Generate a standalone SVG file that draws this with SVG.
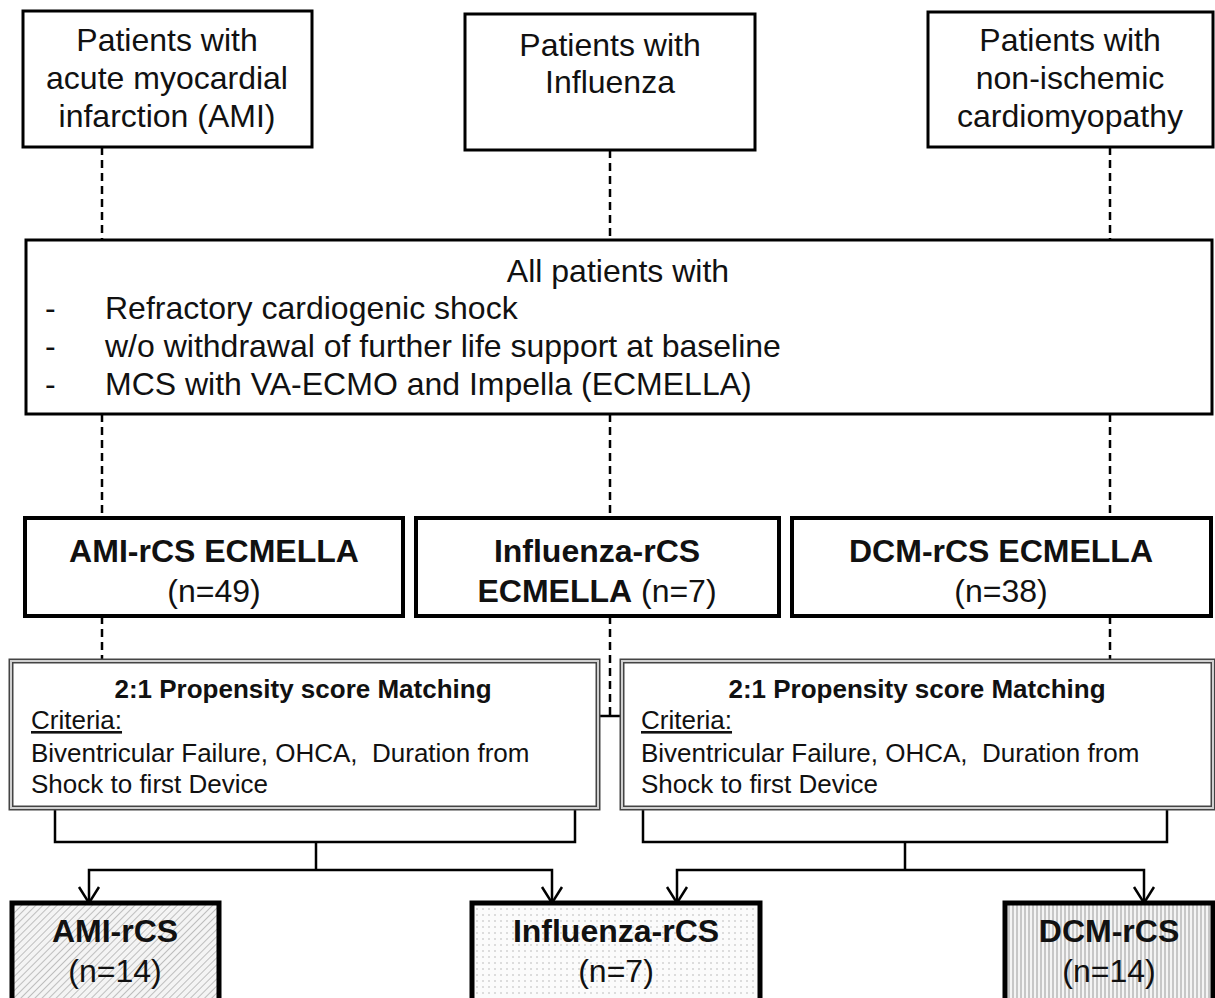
<svg xmlns="http://www.w3.org/2000/svg" width="1215" height="998" viewBox="0 0 1215 998">
<defs>
<pattern id="hatch" patternUnits="userSpaceOnUse" width="5" height="5" patternTransform="rotate(45)">
<rect width="5" height="5" fill="#f4f4f4"/>
<line x1="0" y1="0" x2="0" y2="5" stroke="#9a9a9a" stroke-width="1.2"/>
</pattern>
<pattern id="dots" patternUnits="userSpaceOnUse" width="6" height="6">
<rect width="6" height="6" fill="#fbfbfb"/>
<circle cx="3" cy="3" r="0.8" fill="#b5b5b5"/>
</pattern>
<pattern id="vlines" patternUnits="userSpaceOnUse" width="4" height="4">
<rect width="4" height="4" fill="#f4f4f4"/>
<line x1="1" y1="0" x2="1" y2="4" stroke="#9a9a9a" stroke-width="1"/>
</pattern>
</defs>
<style>
text{font-family:"Liberation Sans",Arial,sans-serif;fill:#111}
.t32{font-size:32px}
.b32{font-size:32px;font-weight:bold}
.t26{font-size:26px}
.b26{font-size:26px;font-weight:bold}
.box{fill:#fff;stroke:#000;stroke-width:3}
.mbox{fill:#fff;stroke:#000;stroke-width:4}
.dbl{fill:#fff;stroke:#444;stroke-width:5}
.dbl2{fill:none;stroke:#d0d0d0;stroke-width:2}
.dash{stroke:#000;stroke-width:2.5;stroke-dasharray:8 5;fill:none}
.sol{stroke:#000;stroke-width:2.5;fill:none}
.c{text-anchor:middle}
</style>
<g id="connectors">
<path class="dash" d="M102,147 V240 M610,150 V240 M1110,147 V240"/>
<path class="dash" d="M102,414 V518 M610,414 V518 M1110,414 V518"/>
<path class="dash" d="M102,616 V661 M610,616 V716 M1110,616 V661"/>
<path class="sol" d="M598,716 H622"/>
<path class="sol" d="M55,808 V842 H575 V808 M316,842 V870 M89,903 V870 H552 V903"/>
<path class="sol" d="M79,887 L89,903 L99,887 M542,887 L552,903 L562,887"/>
<path class="sol" d="M643,808 V842 H1167 V808 M905,842 V870 M677,903 V870 H1144 V903"/>
<path class="sol" d="M667,887 L677,903 L687,887 M1134,887 L1144,903 L1154,887"/>
</g>
<g id="top-ami">
<rect class="box" x="23" y="11" width="289" height="136"/>
<text class="t32 c" x="167" y="51">Patients with</text>
<text class="t32 c" x="167" y="89">acute myocardial</text>
<text class="t32 c" x="167" y="127">infarction (AMI)</text>
</g>
<g id="top-influenza">
<rect class="box" x="465" y="14" width="290" height="136"/>
<text class="t32 c" x="610" y="56">Patients with</text>
<text class="t32 c" x="610" y="93">Influenza</text>
</g>
<g id="top-dcm">
<rect class="box" x="928" y="12" width="285" height="135"/>
<text class="t32 c" x="1070" y="51">Patients with</text>
<text class="t32 c" x="1070" y="89">non-ischemic</text>
<text class="t32 c" x="1070" y="127">cardiomyopathy</text>
</g>
<g id="all-patients">
<rect class="box" x="26" y="240" width="1186" height="174"/>
<text class="t32 c" x="618" y="282">All patients with</text>
<text class="t32" x="45" y="319">-</text>
<text class="t32" x="105" y="319">Refractory cardiogenic shock</text>
<text class="t32" x="45" y="357">-</text>
<text class="t32" x="105" y="357">w/o withdrawal of further life support at baseline</text>
<text class="t32" x="45" y="395">-</text>
<text class="t32" x="105" y="395">MCS with VA-ECMO and Impella (ECMELLA)</text>
</g>
<g id="ami-ecmella">
<rect class="mbox" x="25" y="518" width="378" height="98"/>
<text class="b32 c" x="214" y="562">AMI-rCS ECMELLA</text>
<text class="t32 c" x="214" y="602">(n=49)</text>
</g>
<g id="influenza-ecmella">
<rect class="mbox" x="416" y="518" width="363" height="98"/>
<text class="b32 c" x="597" y="562">Influenza-rCS</text>
<text class="c" x="597" y="602"><tspan class="b32">ECMELLA</tspan><tspan class="t32"> (n=7)</tspan></text>
</g>
<g id="dcm-ecmella">
<rect class="mbox" x="792" y="518" width="419" height="98"/>
<text class="b32 c" x="1001" y="562">DCM-rCS ECMELLA</text>
<text class="t32 c" x="1001" y="602">(n=38)</text>
</g>
<g id="psm-left">
<rect class="dbl" x="11" y="661" width="587" height="147"/>
<rect class="dbl2" x="11" y="661" width="587" height="147"/>
<text class="b26 c" x="303" y="698">2:1 Propensity score Matching</text>
<text class="t26" x="31" y="729" text-decoration="underline">Criteria:</text>
<text class="t26" x="31" y="762" xml:space="preserve">Biventricular Failure, OHCA,  Duration from</text>
<text class="t26" x="31" y="793">Shock to first Device</text>
</g>
<g id="psm-right">
<rect class="dbl" x="622" y="661" width="591" height="147"/>
<rect class="dbl2" x="622" y="661" width="591" height="147"/>
<text class="b26 c" x="917" y="698">2:1 Propensity score Matching</text>
<text class="t26" x="641" y="729" text-decoration="underline">Criteria:</text>
<text class="t26" x="641" y="762" xml:space="preserve">Biventricular Failure, OHCA,  Duration from</text>
<text class="t26" x="641" y="793">Shock to first Device</text>
</g>
<g id="ami-rcs">
<rect x="12" y="903" width="207" height="100" fill="url(#hatch)" stroke="#000" stroke-width="5"/>
<text class="b32 c" x="115" y="942">AMI-rCS</text>
<text class="t32 c" x="115" y="982">(n=14)</text>
</g>
<g id="influenza-rcs">
<rect x="472" y="903" width="288" height="100" fill="url(#dots)" stroke="#000" stroke-width="5"/>
<text class="b32 c" x="616" y="942">Influenza-rCS</text>
<text class="t32 c" x="616" y="982">(n=7)</text>
</g>
<g id="dcm-rcs">
<rect x="1005" y="903" width="208" height="100" fill="url(#vlines)" stroke="#000" stroke-width="5"/>
<text class="b32 c" x="1109" y="942">DCM-rCS</text>
<text class="t32 c" x="1109" y="982">(n=14)</text>
</g>
</svg>
